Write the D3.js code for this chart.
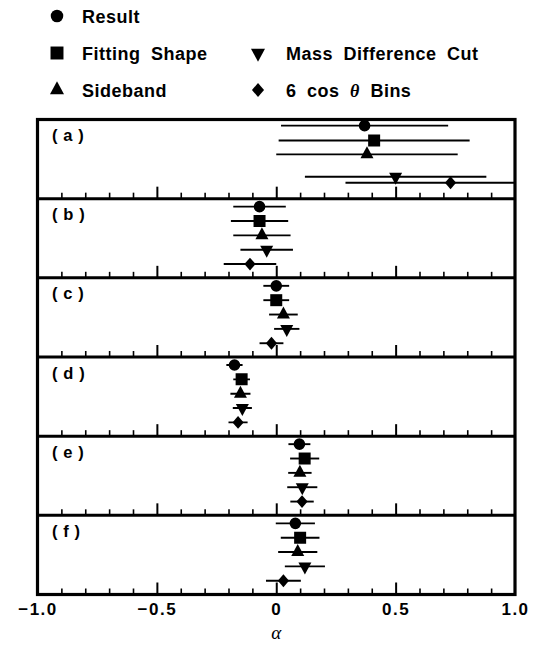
<!DOCTYPE html>
<html>
<head>
<meta charset="utf-8">
<script src="https://cdn.jsdelivr.net/npm/d3@7"></script>
<style>
  html, body { margin: 0; padding: 0; background: #fff; }
  svg { display: block; }
  .lbl { font-family: "Liberation Sans", Arial, sans-serif; font-weight: bold; fill: #000; }
</style>
</head>
<body>
<svg id="chart" width="540" height="647"></svg>
<script>
// Methods compared in each panel, with their marker shapes
const methods = ["Result", "Fitting Shape", "Sideband", "Mass Difference Cut", "6 cos θ Bins"];
const shapes = ["circle", "square", "triangle", "triangleDown", "diamond"];
const panelNames = ["( a )", "( b )", "( c )", "( d )", "( e )", "( f )"];

// Fitted alpha and its uncertainty, one array per panel (same order as methods)
const valA = [0.37, 0.41, 0.38, 0.50, 0.73];
const errA = [0.35, 0.40, 0.38, 0.38, 0.44];
const valB = [-0.07, -0.07, -0.06, -0.04, -0.11];
const errB = [0.11, 0.12, 0.12, 0.11, 0.11];
const valC = [0.00, 0.00, 0.03, 0.044, -0.02];
const errC = [0.054, 0.054, 0.06, 0.053, 0.05];
const valD = [-0.175, -0.145, -0.15, -0.142, -0.16];
const errD = [0.034, 0.035, 0.042, 0.04, 0.04];
const valE = [0.097, 0.119, 0.099, 0.109, 0.108];
const errE = [0.046, 0.061, 0.049, 0.063, 0.049];
const valF = [0.08, 0.10, 0.09, 0.12, 0.03];
const errF = [0.082, 0.081, 0.082, 0.084, 0.073];

// Row index of each entry inside its panel
const rowA = [0.87, 1.91, 2.87, 4.43, 4.85];
const rowStd = [1, 2, 3, 4, 5];

// Axis
const xDomain = [-1, 1];
const xTicks = [-1.0, -0.5, 0, 0.5, 1.0];
const xTickLabels = ["\u22121.0", "\u22120.5", "0", "0.5", "1.0"];
const minorTicks = [-0.9, -0.8, -0.7, -0.6, -0.4, -0.3, -0.2, -0.1, 0.1, 0.2, 0.3, 0.4, 0.6, 0.7, 0.8, 0.9];
const majorTicks = [-0.5, 0, 0.5];

const panels = [
  { name: panelNames[0], val: valA, err: errA, row: rowA },
  { name: panelNames[1], val: valB, err: errB, row: rowStd },
  { name: panelNames[2], val: valC, err: errC, row: rowStd },
  { name: panelNames[3], val: valD, err: errD, row: rowStd },
  { name: panelNames[4], val: valE, err: errE, row: rowStd },
  { name: panelNames[5], val: valF, err: errF, row: rowStd }
];

const svg = d3.select("#chart");
const frame = { left: 37.5, right: 515, top: 119.5, bottom: 594.5 };
const panelH = (frame.bottom - frame.top) / panels.length;

const x = d3.scaleLinear().domain(xDomain).range([frame.left, frame.right]);
const y = d3.scaleLinear().domain([1, 5]).range([8, 65.4]);

// Marker outline centred on (0,0)
function markerPath(type, k = 1) {
  const p = d3.path();
  if (type === "circle") {
    const r = 5.8 * k; p.moveTo(r, 0); p.arc(0, 0, r, 0, 2 * Math.PI);
  } else if (type === "square") {
    const s = 6 * k; p.rect(-s, -s, 2 * s, 2 * s);
  } else if (type === "triangle" || type === "triangleDown") {
    const w = 13 * k, h = 12 * k, sg = type === "triangle" ? 1 : -1;
    p.moveTo(0, -sg * h * 2 / 3); p.lineTo(w / 2, sg * h / 3); p.lineTo(-w / 2, sg * h / 3); p.closePath();
  } else {
    const w = 5.6 * k, h = 6.4 * k;
    p.moveTo(0, -h); p.lineTo(w, 0); p.lineTo(0, h); p.lineTo(-w, 0); p.closePath();
  }
  return p.toString();
}

svg.append("defs").append("clipPath").attr("id", "plotclip")
  .append("rect").attr("x", frame.left).attr("y", frame.top)
  .attr("width", frame.right - frame.left).attr("height", frame.bottom - frame.top);

panels.forEach((pn, pi) => {
  const top = frame.top + pi * panelH;
  const bottom = top + panelH;
  const g = svg.append("g");

  // inward-pointing ticks along the bottom of each panel
  g.append("g").attr("transform", `translate(0,${bottom})`)
    .call(d3.axisTop(x).tickValues(minorTicks).tickSize(6).tickFormat(""))
    .call(s => s.select(".domain").remove())
    .call(s => s.selectAll("line").attr("stroke", "#000").attr("stroke-width", 1.6));
  g.append("g").attr("transform", `translate(0,${bottom})`)
    .call(d3.axisTop(x).tickValues(majorTicks).tickSize(12).tickFormat(""))
    .call(s => s.select(".domain").remove())
    .call(s => s.selectAll("line").attr("stroke", "#000").attr("stroke-width", 2));

  g.append("text").attr("class", "lbl")
    .attr("x", 52).attr("y", top + 21.5)
    .attr("font-size", 16.5).attr("letter-spacing", 0.6)
    .attr("xml:space", "preserve")
    .text(pn.name);

  const pts = pn.val.map((v, i) => ({ v, e: pn.err[i], r: pn.row[i], shape: shapes[i] }));
  const dg = g.append("g").attr("clip-path", "url(#plotclip)");
  dg.selectAll("line.bar").data(pts).join("line")
    .attr("class", "bar")
    .attr("x1", d => x(d.v - d.e)).attr("x2", d => x(d.v + d.e))
    .attr("y1", d => top + y(d.r)).attr("y2", d => top + y(d.r))
    .attr("stroke", "#000").attr("stroke-width", 1.9);
  dg.selectAll("path.mk").data(pts).join("path")
    .attr("class", "mk")
    .attr("d", d => markerPath(d.shape))
    .attr("transform", d => `translate(${x(d.v)},${top + y(d.r)})`)
    .attr("fill", "#000");

  if (pi > 0) {
    svg.append("line").attr("x1", frame.left).attr("x2", frame.right)
      .attr("y1", top).attr("y2", top).attr("stroke", "#000").attr("stroke-width", 3);
  }
});

// outer frame
svg.append("rect").attr("x", frame.left).attr("y", frame.top)
  .attr("width", frame.right - frame.left).attr("height", frame.bottom - frame.top)
  .attr("fill", "none").attr("stroke", "#000").attr("stroke-width", 3.2);

// tick labels under the bottom panel
svg.append("g").attr("transform", `translate(0,${frame.bottom})`)
  .call(d3.axisBottom(x).tickValues(xTicks).tickSize(0).tickPadding(8)
    .tickFormat((d, i) => xTickLabels[i]))
  .call(s => s.select(".domain").remove())
  .call(s => s.selectAll("text").attr("class", "lbl")
    .attr("font-size", 17).attr("letter-spacing", 1.5).attr("dy", "0.75em"));

svg.append("text")
  .attr("x", x(0)).attr("y", 639)
  .attr("text-anchor", "middle")
  .attr("font-family", "'Liberation Serif', 'DejaVu Serif', serif")
  .attr("font-style", "italic").attr("font-size", 19)
  .text("α");

// legend
const legendPos = [
  { mx: 57, tx: 82, y: 16 },
  { mx: 57, tx: 82, y: 53 },
  { mx: 57, tx: 82, y: 90 },
  { mx: 258, tx: 286, y: 53 },
  { mx: 258, tx: 286, y: 90 }
];
const lg = svg.append("g");
methods.forEach((m, i) => {
  const p = legendPos[i];
  lg.append("path").attr("d", markerPath(shapes[i], 1.08))
    .attr("transform", `translate(${p.mx},${p.y})`).attr("fill", "#000");
  const t = lg.append("text").attr("class", "lbl")
    .attr("x", p.tx).attr("y", p.y + 6.5)
    .attr("font-size", 18).attr("letter-spacing", 0.5).attr("word-spacing", 5);
  if (m.includes("θ")) {
    const parts = m.split("θ");
    t.append("tspan").text(parts[0]);
    t.append("tspan").attr("font-family", "'Liberation Serif', serif").attr("font-style", "italic").text("θ");
    t.append("tspan").text(parts[1]);
  } else {
    t.text(m);
  }
});
</script>
</body>
</html>
